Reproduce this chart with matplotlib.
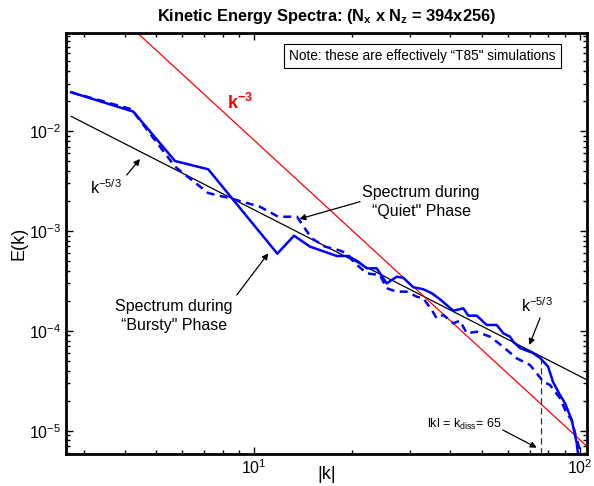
import numpy as np
import matplotlib
matplotlib.use("Agg")
import matplotlib.pyplot as plt
from matplotlib.ticker import LogLocator, NullFormatter

plt.rcParams['font.family'] = ['Liberation Sans', 'DejaVu Sans']
plt.rcParams['mathtext.fontset'] = 'custom'
plt.rcParams['mathtext.rm'] = 'Liberation Sans'
plt.rcParams['mathtext.it'] = 'Liberation Sans'
plt.rcParams['mathtext.bf'] = 'Liberation Sans:bold'

# ---- data ----
k_bursty = [2.74, 4.25, 5.71, 7.22, 11.77, 13.24, 14.83, 17.91, 19.40, 20.86, 22.13,
            23.75, 25.50, 27.36, 28.67, 30.78, 33.03, 35.06, 37.18, 40.83, 43.83,
            45.4, 48.18, 51.71, 55.50, 58.15, 60.96, 62.4, 65.4, 71.7, 75.4, 79.8,
            82.6, 86.8, 89.9, 94.3, 97.7, 99.5]
E_bursty = [0.0245, 0.0157, 0.00502, 0.00415, 5.93e-4, 8.97e-4, 6.97e-4, 5.62e-4,
            5.62e-4, 4.93e-4, 4.23e-4, 4.23e-4, 2.99e-4, 3.48e-4, 3.40e-4, 2.73e-4,
            2.61e-4, 2.38e-4, 2.07e-4, 1.59e-4, 1.68e-4, 1.42e-4, 1.42e-4, 1.145e-4,
            1.145e-4, 9.45e-5, 8.74e-5, 7.78e-5, 6.73e-5, 6.0e-5, 5.35e-5, 4.38e-5,
            3.09e-5, 2.28e-5, 1.89e-5, 1.28e-5, 7.53e-6, 4.5e-6]

k_quiet = [2.74, 4.20, 5.71, 7.22, 8.60, 10.41, 11.84, 13.52, 15.0, 16.49, 18.11,
           19.24, 20.14, 22.13, 24.3, 25.5, 27.36, 29.38, 31.52, 33.0, 35.06, 36.3,
           38.05, 40.83, 42.8, 44.9, 48.18, 52.9, 55.5, 58.0, 63.9, 70.2, 73.6, 77.2,
           80.9, 83.8, 86.8, 91.0, 94.3, 96.5, 99.5, 102.4]
E_quiet = [0.0245, 0.01655, 0.00441, 0.00240, 0.00209, 0.00175, 0.00139, 0.00139,
           8.45e-4, 6.97e-4, 6.45e-4, 5.98e-4, 4.93e-4, 3.77e-4, 3.62e-4, 2.67e-4,
           2.47e-4, 2.47e-4, 2.20e-4, 2.12e-4, 1.62e-4, 1.335e-4, 1.44e-4, 1.19e-4,
           1.264e-4, 9.45e-5, 9.80e-5, 8.74e-5, 7.78e-5, 6.94e-5, 5.31e-5, 4.55e-5,
           3.76e-5, 3.09e-5, 2.87e-5, 2.46e-5, 2.11e-5, 1.49e-5, 1.28e-5, 9.48e-6,
           6.71e-6, 6.4e-6]

k_ref = [2.74, 105.1]          # range of the reference power laws
C_53 = 0.0755                  # coefficient of k^-5/3 line
C_3 = 8.08                     # coefficient of k^-3 line
k_diss_line = 75.9             # position of the dashed marker
E_diss_top = 5.25e-5
x_limits = (2.633, 105.1)
y_limits = (5.885e-6, 0.0955)

# ---- figure ----
fig = plt.figure(figsize=(5.94, 4.86), dpi=100)
ax = fig.add_axes([0.1103, 0.0665, 0.878, 0.865])

kr = np.array(k_ref)
ax.plot(kr, C_53 * kr ** (-5.0 / 3.0), color='black', lw=0.9)
ax.plot(kr, C_3 * kr ** (-3.0), color='red', lw=0.9)
ax.plot(k_bursty, E_bursty, color='#0000ff', lw=1.8, ls='-')
ax.plot(k_quiet, E_quiet, color='#0000ff', lw=1.8, ls=(0, (3.2, 2.2)))
ax.plot([k_diss_line, k_diss_line], [y_limits[0], E_diss_top], color='#333333',
        lw=0.9, ls=(0, (5, 3)))

ax.set_xscale('log')
ax.set_yscale('log')
ax.set_xlim(*x_limits)
ax.set_ylim(*y_limits)

ax.xaxis.set_major_locator(LogLocator(base=10, numticks=10))
ax.yaxis.set_major_locator(LogLocator(base=10, numticks=10))
ax.xaxis.set_minor_locator(LogLocator(base=10, subs=np.arange(2, 10), numticks=20))
ax.yaxis.set_minor_locator(LogLocator(base=10, subs=np.arange(2, 10), numticks=20))
ax.xaxis.set_minor_formatter(NullFormatter())
ax.yaxis.set_minor_formatter(NullFormatter())
ax.tick_params(which='both', direction='in', top=True, right=True, labelsize=11.5,
               width=1.0, color='black')
ax.tick_params(which='major', length=5, pad=3)
ax.tick_params(which='minor', length=3)
for s in ax.spines.values():
    s.set_linewidth(2.0)

ax.set_xlabel('|k|', fontsize=13)
ax.xaxis.set_label_coords(0.5, -0.030)
ax.set_ylabel('E(k)', fontsize=13, labelpad=1)

fig.text(0.5 * (0.1103 + 0.9883), 1 - 17 / 486,
         r'Kinetic Energy Spectra: (N$_\mathbf{x}$ x N$_\mathbf{z}$ = 394x256)',
         ha='center', va='center', fontsize=11.8, fontweight='bold')

ax.text(0.684, 0.946, 'Note: these are effectively \u201cT85" simulations', transform=ax.transAxes,
        ha='center', va='center', fontsize=9.8,
        bbox=dict(boxstyle='square,pad=0.4', fc='white', ec='black', lw=0.8))

ax.text(0.3346, 0.8342, r'$\mathbf{k^{-3}}$', transform=ax.transAxes, color='red',
        ha='center', va='center', fontsize=13)

arrow = dict(arrowstyle='-|>', color='black', lw=0.9, mutation_scale=9, shrinkA=0, shrinkB=0)
ax.text(0.0777, 0.6320, r'k$^{-5/3}$', transform=ax.transAxes,
        ha='center', va='center', fontsize=11.5)
ax.annotate('', xy=(0.1429, 0.7010), xytext=(0.1174, 0.6629),
            xycoords='axes fraction', textcoords='axes fraction', arrowprops=arrow)

ax.text(0.6817, 0.5983, 'Spectrum during\n\u201cQuiet" Phase', transform=ax.transAxes,
        ha='center', va='center', fontsize=11.5, linespacing=1.3)
ax.annotate('', xy=(0.4483, 0.5583), xytext=(0.5647, 0.5994),
            xycoords='axes fraction', textcoords='axes fraction', arrowprops=arrow)

ax.text(0.2081, 0.3275, 'Spectrum during\n\u201cBursty" Phase', transform=ax.transAxes,
        ha='center', va='center', fontsize=11.5, linespacing=1.3)
ax.annotate('', xy=(0.3889, 0.4767), xytext=(0.3284, 0.3776),
            xycoords='axes fraction', textcoords='axes fraction', arrowprops=arrow)

ax.text(0.9041, 0.3513, r'k$^{-5/3}$', transform=ax.transAxes,
        ha='center', va='center', fontsize=11.5)
ax.annotate('', xy=(0.8893, 0.2586), xytext=(0.9099, 0.3228),
            xycoords='axes fraction', textcoords='axes fraction', arrowprops=arrow)

ax.text(0.7641, 0.0707, r'lkl = k$_{\mathrm{diss}}$= 65', transform=ax.transAxes,
        ha='center', va='center', fontsize=9)
ax.annotate('', xy=(0.9035, 0.0143), xytext=(0.8383, 0.0564),
            xycoords='axes fraction', textcoords='axes fraction', arrowprops=arrow)

fig.savefig('out.png', dpi=100)
